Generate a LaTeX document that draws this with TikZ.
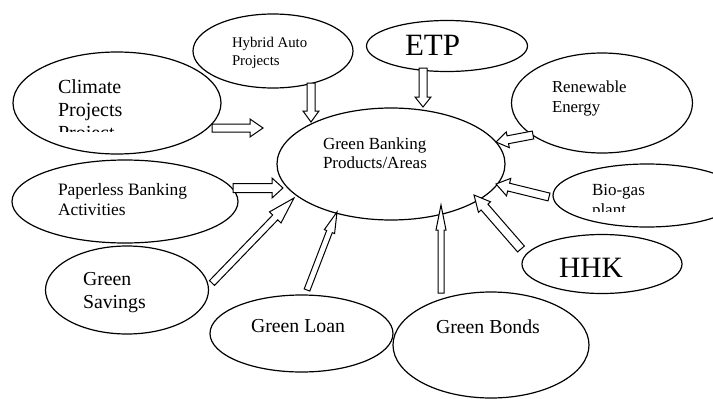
\documentclass[tikz,border=0pt]{standalone}
\usepackage{fontspec}
\setmainfont{Liberation Serif}
\usetikzlibrary{shapes.geometric,calc}

% hollow block arrow: #1 tail, #2 tip, #3 shaft half-width, #4 head half-width, #5 head length
\newcommand\blockarrow[5]{%
  \coordinate (#2-base) at ($(#2)!#5!(#1)$);
  \draw[arrowline]
    ($(#1)!#3!90:(#2)$) -- ($(#2-base)!#3!90:(#2)$) -- ($(#2-base)!#4!90:(#2)$)
    -- (#2)
    -- ($(#2-base)!#4!-90:(#2)$) -- ($(#2-base)!#3!-90:(#2)$) -- ($(#1)!#3!-90:(#2)$)
    -- cycle;}

\tikzset{
  bubble/.style={ellipse, draw, line width=1.2pt, inner sep=0pt, outer sep=0pt},
  arrowline/.style={draw, line width=1pt, fill=white, line join=miter},
  lbl/.style={anchor=base west, inner sep=0pt, outer sep=0pt},
  fs/.style={font=\fontsize{#1}{#1}\selectfont},
}

\begin{document}
\begin{tikzpicture}[x=1pt,y=-1pt]
  \useasboundingbox (0,0) rectangle (713,399);
  \clip (0,0) rectangle (713,399);

  % ellipses
  \node[bubble, minimum width=208pt, minimum height=102pt] (climate) at (117,103) {};
  \node[bubble, minimum width=160pt, minimum height=74pt]  (hybrid)  at (273,51) {};
  \node[bubble, minimum width=228pt, minimum height=112pt] (main)    at (391,164) {};
  \node[bubble, minimum width=161pt, minimum height=51pt]  (etp)     at (447,46) {};
  \node[bubble, minimum width=181pt, minimum height=100pt] (renew)   at (602,103) {};
  \node[bubble, minimum width=188pt, minimum height=63pt]  (biogas)  at (647,195.5) {};
  \node[bubble, minimum width=160pt, minimum height=59pt]  (hhk)     at (602,264) {};
  \node[bubble, minimum width=196pt, minimum height=106pt] (bonds)   at (491,345) {};
  \node[bubble, minimum width=183pt, minimum height=77pt]  (loan)    at (301.5,333.5) {};
  \node[bubble, minimum width=163pt, minimum height=88pt]  (savings) at (127,290) {};
  \node[bubble, minimum width=226pt, minimum height=83pt]  (paper)   at (125,201.5) {};

  % labels
  \node[lbl, fs=20] (climate-l1) at (58,93) {Climate};
  \node[lbl, fs=20] (climate-l2) at (58,116) {Projects};
  \begin{scope}
    \clip (50,118) rectangle (200,131.5);
    \node[lbl, fs=20] (climate-l3) at (58,139) {Project};
  \end{scope}

  \node[lbl, fs=14.8] (hybrid-l1) at (232,47) {Hybrid Auto};
  \node[lbl, fs=14.8] (hybrid-l2) at (232,65) {Projects};

  \node[lbl, fs=17] (main-l1) at (323,149) {Green Banking};
  \node[lbl, fs=17] (main-l2) at (323,168) {Products/Areas};

  \node[lbl, fs=31] (etp-l) at (405,55) {ETP};

  \node[lbl, fs=16.8] (renew-l1) at (552,92) {Renewable};
  \node[lbl, fs=16.8] (renew-l2) at (552,112) {Energy};

  \node[lbl, fs=17] (biogas-l1) at (592,195) {Bio-gas};
  \begin{scope}
    \clip (585,198) rectangle (680,211);
    \node[lbl, fs=17] (biogas-l2) at (592,215) {plant};
  \end{scope}

  \node[lbl, fs=29.5] (hhk-l) at (559,277) {HHK};

  \node[lbl, fs=19.8] (bonds-l) at (436,333) {Green Bonds};
  \node[lbl, fs=19.8] (loan-l) at (251,332) {Green Loan};

  \node[lbl, fs=19.8] (savings-l1) at (83,285) {Green};
  \node[lbl, fs=19.8] (savings-l2) at (83,308) {Savings};

  \node[lbl, fs=17.4] (paper-l1) at (58,195) {Paperless Banking};
  \node[lbl, fs=17.4] (paper-l2) at (58,215) {Activities};

  % arrow end points
  \coordinate (climate-tail) at (212,128);  \coordinate (climate-tip) at (263,128);
  \coordinate (hybrid-tail)  at (311,83);   \coordinate (hybrid-tip)  at (311,122);
  \coordinate (etp-tail)     at (423,68);   \coordinate (etp-tip)     at (423,107);
  \coordinate (renew-tail)   at (533,135);  \coordinate (renew-tip)   at (496,142);
  \coordinate (biogas-tail)  at (549,197);  \coordinate (biogas-tip)  at (496,184);
  \coordinate (hhk-tail)     at (521,249);  \coordinate (hhk-tip)     at (474,195);
  \coordinate (bonds-tail)   at (441,293);  \coordinate (bonds-tip)   at (441,205);
  \coordinate (loan-tail)    at (307,290);  \coordinate (loan-tip)    at (337,212);
  \coordinate (savings-tail) at (212,283);  \coordinate (savings-tip) at (294,198);
  \coordinate (paper-tail)   at (233,188);  \coordinate (paper-tip)   at (283,188);

  % arrows into the central ellipse
  \blockarrow{climate-tail}{climate-tip}{4pt}{9pt}{13pt}
  \blockarrow{hybrid-tail}{hybrid-tip}{4pt}{8pt}{11pt}
  \blockarrow{etp-tail}{etp-tip}{4pt}{8pt}{10pt}
  \blockarrow{renew-tail}{renew-tip}{4pt}{8pt}{12pt}
  \blockarrow{biogas-tail}{biogas-tip}{4pt}{9pt}{13pt}
  \blockarrow{hhk-tail}{hhk-tip}{4.5pt}{8pt}{16pt}
  \blockarrow{bonds-tail}{bonds-tip}{3pt}{5pt}{25pt}
  \blockarrow{loan-tail}{loan-tip}{3pt}{5.5pt}{21pt}
  \blockarrow{savings-tail}{savings-tip}{3.5pt}{8pt}{27pt}
  \blockarrow{paper-tail}{paper-tip}{4.5pt}{10pt}{11pt}
\end{tikzpicture}
\end{document}
